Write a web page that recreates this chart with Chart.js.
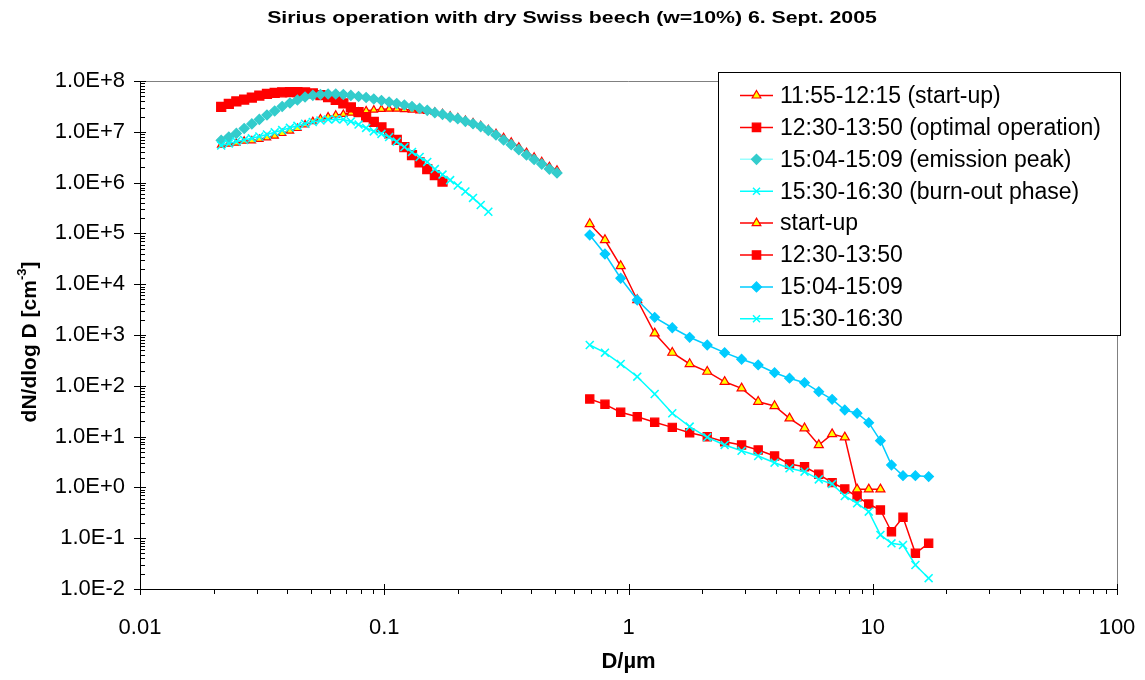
<!DOCTYPE html>
<html>
<head>
<meta charset="utf-8">
<script src="https://cdn.jsdelivr.net/npm/chart.js@4.4.1/dist/chart.umd.min.js"></script>
<style>
  html, body { margin: 0; padding: 0; background: #fff; }
  #wrap { width: 1145px; height: 680px; }
</style>
</head>
<body>
<div id="wrap"><canvas id="sizeChart" width="1145" height="680"></canvas></div>
<script>
var FONT = '"Liberation Sans", Arial, sans-serif';

var chartTitle = "Sirius operation with dry Swiss beech (w=10%) 6. Sept. 2005";
var xTitle = "D/\u00b5m";
var yTitle = ["dN/dlog D [cm", "-3", "]"];

// tick labels
var xTicks = [0.01, 0.1, 1, 10, 100];
var yTicks = [1e-2, 1e-1, 1e0, 1e1, 1e2, 1e3, 1e4, 1e5, 1e6, 1e7, 1e8];

// SMPS channels (um)
var sizeFine = [0.0215, 0.0231, 0.0248, 0.0267, 0.0287, 0.0308, 0.0331, 0.0356, 0.0382, 0.0411,
  0.0441, 0.0474, 0.0510, 0.0548, 0.0589, 0.0633, 0.0680, 0.0730, 0.0785, 0.0843,
  0.0906, 0.0974, 0.1047, 0.1125, 0.1209, 0.1299, 0.1396, 0.1500, 0.1611, 0.1732,
  0.1861, 0.2000, 0.2149, 0.2309, 0.2483, 0.2668, 0.2867, 0.3081, 0.3311, 0.3557,
  0.3823, 0.4108, 0.4414, 0.4744, 0.5097];

// APS channels (um)
var sizeCoarse = [0.694, 0.801, 0.929, 1.086, 1.280, 1.511, 1.780, 2.101, 2.475, 2.904,
  3.396, 3.963, 4.563, 5.257, 6.013, 6.817, 7.683, 8.627, 9.630, 10.75,
  11.93, 13.30, 14.95, 16.94];

var startFine = [5.50e6, 5.75e6, 6.02e6, 6.59e6, 6.68e6, 7.12e6, 7.66e6, 8.27e6, 9.33e6, 1.04e7,
  1.17e7, 1.38e7, 1.60e7, 1.80e7, 1.98e7, 2.14e7, 2.21e7, 2.34e7, 2.45e7, 2.60e7,
  2.69e7, 2.77e7, 2.81e7, 2.81e7, 2.75e7, 2.69e7, 2.59e7, 2.53e7, 2.45e7, 2.29e7,
  2.05e7, 1.90e7, 1.68e7, 1.51e7, 1.33e7, 1.11e7, 9.27e6, 7.73e6, 6.30e6, 5.02e6,
  3.92e6, 3.19e6, 2.60e6, 2.07e6, 1.77e6];
var optFine = [3.08e7, 3.53e7, 3.95e7, 4.32e7, 4.73e7, 5.18e7, 5.55e7, 5.81e7, 6.00e7, 6.07e7,
  6.07e7, 5.94e7, 5.68e7, 5.30e7, 4.84e7, 4.23e7, 3.61e7, 3.01e7, 2.45e7, 1.95e7,
  1.56e7, 1.22e7, 9.27e6, 6.90e6, 5.02e6, 3.49e6, 2.49e6, 1.85e6, 1.41e6, 1.05e6];
var emisFine = [6.8e6, 7.9e6, 9.3e6, 1.16e7, 1.43e7, 1.75e7, 2.14e7, 2.57e7, 3.15e7, 3.69e7,
  4.23e7, 4.84e7, 5.23e7, 5.42e7, 5.55e7, 5.55e7, 5.42e7, 5.19e7, 4.95e7, 4.73e7,
  4.42e7, 4.13e7, 3.86e7, 3.61e7, 3.37e7, 3.15e7, 2.88e7, 2.65e7, 2.38e7, 2.21e7,
  1.95e7, 1.81e7, 1.61e7, 1.44e7, 1.27e7, 1.06e7, 8.65e6, 6.9e6, 5.57e6, 4.45e6,
  3.49e6, 2.85e6, 2.32e6, 1.85e6, 1.55e6];
var burnFine = [5.37e6, 5.88e6, 6.44e6, 6.90e6, 7.45e6, 8.08e6, 8.85e6, 9.77e6, 1.08e7, 1.20e7,
  1.31e7, 1.44e7, 1.56e7, 1.67e7, 1.75e7, 1.77e7, 1.75e7, 1.60e7, 1.39e7, 1.19e7,
  1.02e7, 9.1e6, 7.9e6, 6.4e6, 5.0e6, 4.00e6, 3.19e6, 2.55e6, 1.85e6, 1.44e6,
  1.12e6, 8.77e5, 6.68e5, 4.98e5, 3.62e5, 2.67e5];

var startCoarse = [1.53e5, 7.41e4, 2.28e4, 4.89e3, 1.08e3, 449, 269, 190, 120, 89.3,
  48.6, 40.0, 22.9, 14.6, 6.84, 11.2, 9.69, 0.918, 0.918, 0.918];
var optCoarse = [55.0, 43.2, 30.1, 24.6, 19.1, 15.2, 11.9, 9.96, 7.94, 6.84,
  5.45, 4.15, 2.89, 2.55, 1.81, 1.24, 0.93, 0.656, 0.471, 0.359,
  0.134, 0.258, 0.0505, 0.0794];
var emisCoarse = [9.30e4, 3.93e4, 1.31e4, 4.89e3, 2.23e3, 1.39e3, 902, 636, 449, 333,
  257, 181, 141, 115, 76.6, 54.2, 33.4, 28.8, 18.8, 8.30,
  2.76, 1.70, 1.70, 1.63];
var burnCoarse = [636, 449, 269, 151, 69.0, 28.8, 15.7, 9.69, 6.84, 5.27,
  4.15, 3.06, 2.38, 2.04, 1.44, 1.17, 0.677, 0.486, 0.333, 0.116,
  0.0794, 0.0735, 0.0297, 0.0163];

var seriesNames = ["11:55-12:15 (start-up)", "12:30-13:50 (optimal operation)",
  "15:04-15:09 (emission peak)", "15:30-16:30 (burn-out phase)",
  "start-up", "12:30-13:50", "15:04-15:09", "15:30-16:30"];

function pts(xs, ys) {
  return ys.map(function (y, i) { return { x: xs[i], y: y }; });
}

function series(i, xs, ys, style, r, fill, edge, line) {
  return {
    label: seriesNames[i],
    data: pts(xs, ys),
    showLine: true,
    borderColor: line,
    borderWidth: 1.5,
    pointStyle: style,
    pointRadius: r,
    pointBackgroundColor: fill,
    pointBorderColor: edge,
    pointBorderWidth: style === 'crossRot' ? 1.6 : 1.2,
    order: 8 - i  // first series at the bottom, like the original
  };
}

// marker for the legend box
function marker(ctx, style, x, y, r, fill, edge) {
  ctx.save();
  ctx.fillStyle = fill;
  ctx.strokeStyle = edge;
  ctx.lineWidth = 1.2;
  ctx.beginPath();
  if (style === 'triangle') {
    ctx.moveTo(x, y - r);
    ctx.lineTo(x + r * 0.866, y + r * 0.5);
    ctx.lineTo(x - r * 0.866, y + r * 0.5);
    ctx.closePath();
    ctx.fill(); ctx.stroke();
  } else if (style === 'rect') {
    ctx.rect(x - r * 0.7, y - r * 0.7, r * 1.4, r * 1.4);
    ctx.fill(); ctx.stroke();
  } else if (style === 'rectRot') {
    ctx.moveTo(x, y - r); ctx.lineTo(x + r, y); ctx.lineTo(x, y + r); ctx.lineTo(x - r, y);
    ctx.closePath();
    ctx.fill(); ctx.stroke();
  } else {
    var d = r * 0.7;
    ctx.lineWidth = 1.5;
    ctx.moveTo(x - d, y - d); ctx.lineTo(x + d, y + d);
    ctx.moveTo(x + d, y - d); ctx.lineTo(x - d, y + d);
    ctx.stroke();
  }
  ctx.restore();
}

// keep tick-label overflow from shrinking the plot area
function noOverflow(ax) {
  ax.paddingLeft = 0; ax.paddingRight = 0;
  ax.paddingTop = 0; ax.paddingBottom = 0;
}

var decor = {
  id: 'decor',
  afterDraw: function (chart) {
    var ctx = chart.ctx, a = chart.chartArea;
    var sx = chart.scales.x, sy = chart.scales.y;
    ctx.save();

    // plot frame (top / right)
    ctx.strokeStyle = '#808080';
    ctx.lineWidth = 1;
    ctx.beginPath();
    ctx.moveTo(a.left, Math.round(a.top) + 0.5);
    ctx.lineTo(Math.round(a.right) + 0.5, Math.round(a.top) + 0.5);
    ctx.lineTo(Math.round(a.right) + 0.5, a.bottom);
    ctx.stroke();

    // tick marks
    ctx.strokeStyle = '#000';
    ctx.beginPath();
    var b = Math.round(a.bottom), l = Math.round(a.left);
    xTicks.forEach(function (v, k) {
      var px = Math.round(sx.getPixelForValue(v)) + 0.5;
      ctx.moveTo(px, b - 5); ctx.lineTo(px, b + 6);
      if (k < xTicks.length - 1) {
        for (var m = 2; m < 10; m++) {
          var p = Math.round(sx.getPixelForValue(v * m)) + 0.5;
          ctx.moveTo(p, b); ctx.lineTo(p, b + 5);
        }
      }
    });
    yTicks.forEach(function (v, k) {
      var py = Math.round(sy.getPixelForValue(v)) + 0.5;
      ctx.moveTo(l - 6, py); ctx.lineTo(l + 6, py);
      if (k < yTicks.length - 1) {
        for (var m = 2; m < 10; m++) {
          var p = Math.round(sy.getPixelForValue(v * m)) + 0.5;
          ctx.moveTo(l, p); ctx.lineTo(l + 5, p);
        }
      }
    });
    ctx.stroke();

    ctx.fillStyle = '#000';
    // chart title
    ctx.save();
    ctx.font = 'bold 16px ' + FONT;
    ctx.textAlign = 'center';
    ctx.textBaseline = 'middle';
    ctx.translate(572, 19);
    ctx.scale(1.33, 1);
    ctx.fillText(chartTitle, 0, 0);
    ctx.restore();

    // x axis title
    ctx.font = 'bold 22px ' + FONT;
    ctx.textAlign = 'center';
    ctx.textBaseline = 'middle';
    ctx.fillText(xTitle, (a.left + a.right) / 2, 662);

    // y axis title with superscript
    ctx.save();
    ctx.translate(30, 342);
    ctx.rotate(-Math.PI / 2);
    ctx.textAlign = 'left';
    ctx.textBaseline = 'middle';
    ctx.font = 'bold 21px ' + FONT;
    var w1 = ctx.measureText(yTitle[0]).width, w3 = ctx.measureText(yTitle[2]).width;
    ctx.font = 'bold 13px ' + FONT;
    var w2 = ctx.measureText(yTitle[1]).width;
    var x0 = -(w1 + w2 + w3) / 2;
    ctx.font = 'bold 21px ' + FONT;
    ctx.fillText(yTitle[0], x0, 0);
    ctx.font = 'bold 13px ' + FONT;
    ctx.fillText(yTitle[1], x0 + w1, -8);
    ctx.font = 'bold 21px ' + FONT;
    ctx.fillText(yTitle[2], x0 + w1 + w2, 0);
    ctx.restore();

    // legend box
    ctx.fillStyle = '#fff';
    ctx.fillRect(718, 72, 402, 263);
    ctx.strokeStyle = '#000';
    ctx.lineWidth = 1;
    ctx.strokeRect(718.5, 72.5, 402, 263);
    ctx.font = '23px ' + FONT;
    ctx.textAlign = 'left';
    ctx.textBaseline = 'middle';
    chart.data.datasets.forEach(function (ds, i) {
      var y = 95.5 + i * 31.9;
      ctx.strokeStyle = ds.borderColor;
      ctx.lineWidth = 1.5;
      ctx.beginPath();
      ctx.moveTo(740, y); ctx.lineTo(773, y);
      ctx.stroke();
      marker(ctx, ds.pointStyle, 756.5, y, ds.pointStyle === 'rect' ? 6 : 5,
        ds.pointBackgroundColor, ds.pointBorderColor);
      ctx.fillStyle = '#000';
      ctx.fillText(ds.label, 780, y + 1);
    });

    ctx.restore();
  }
};

new Chart("sizeChart", {
  type: "scatter",
  data: {
    datasets: [
      series(0, sizeFine, startFine, 'triangle', 4.3, '#FFFF00', '#FF0000', '#FF0000'),
      series(1, sizeFine, optFine, 'rect', 6.4, '#FF0000', '#FF0000', '#FF0000'),
      series(2, sizeFine, emisFine, 'rectRot', 5, '#33CCCC', '#33CCCC', '#99FFFF'),
      series(3, sizeFine, burnFine, 'crossRot', 5.6, '#00FFFF', '#00FFFF', '#00FFFF'),
      series(4, sizeCoarse, startCoarse, 'triangle', 5.2, '#FFFF00', '#FF0000', '#FF0000'),
      series(5, sizeCoarse, optCoarse, 'rect', 5.8, '#FF0000', '#FF0000', '#FF0000'),
      series(6, sizeCoarse, emisCoarse, 'rectRot', 4.8, '#00CCFF', '#00CCFF', '#00CCFF'),
      series(7, sizeCoarse, burnCoarse, 'crossRot', 5.6, '#00FFFF', '#00FFFF', '#00FFFF')
    ]
  },
  options: {
    responsive: false,
    animation: false,
    events: [],
    layout: { padding: { top: 81, right: 28, left: 0, bottom: 0 } },
    plugins: {
      legend: { display: false },
      title: { display: false },
      tooltip: { enabled: false }
    },
    scales: {
      x: {
        type: 'logarithmic',
        min: 0.01,
        max: 100,
        afterBuildTicks: function (ax) { ax.ticks = xTicks.map(function (v) { return { value: v }; }); },
        afterFit: function (ax) { ax.height = 91; noOverflow(ax); },
        grid: { display: false, drawTicks: false },
        border: { display: true, color: '#000', width: 1 },
        ticks: {
          color: '#000',
          font: { family: FONT, size: 22 },
          padding: 26,
          maxRotation: 0,
          autoSkip: false,
          callback: function (v) { return String(v); }
        }
      },
      y: {
        type: 'logarithmic',
        min: 1e-2,
        max: 1e8,
        afterBuildTicks: function (ax) { ax.ticks = yTicks.map(function (v) { return { value: v }; }); },
        afterFit: function (ax) { ax.width = 140; noOverflow(ax); },
        grid: { display: false, drawTicks: false },
        border: { display: true, color: '#000', width: 1 },
        ticks: {
          color: '#000',
          font: { family: FONT, size: 22 },
          padding: 15,
          autoSkip: false,
          callback: function (v) { return Number(v).toExponential(1).toUpperCase(); }
        }
      }
    }
  },
  plugins: [decor]
});
</script>
</body>
</html>
